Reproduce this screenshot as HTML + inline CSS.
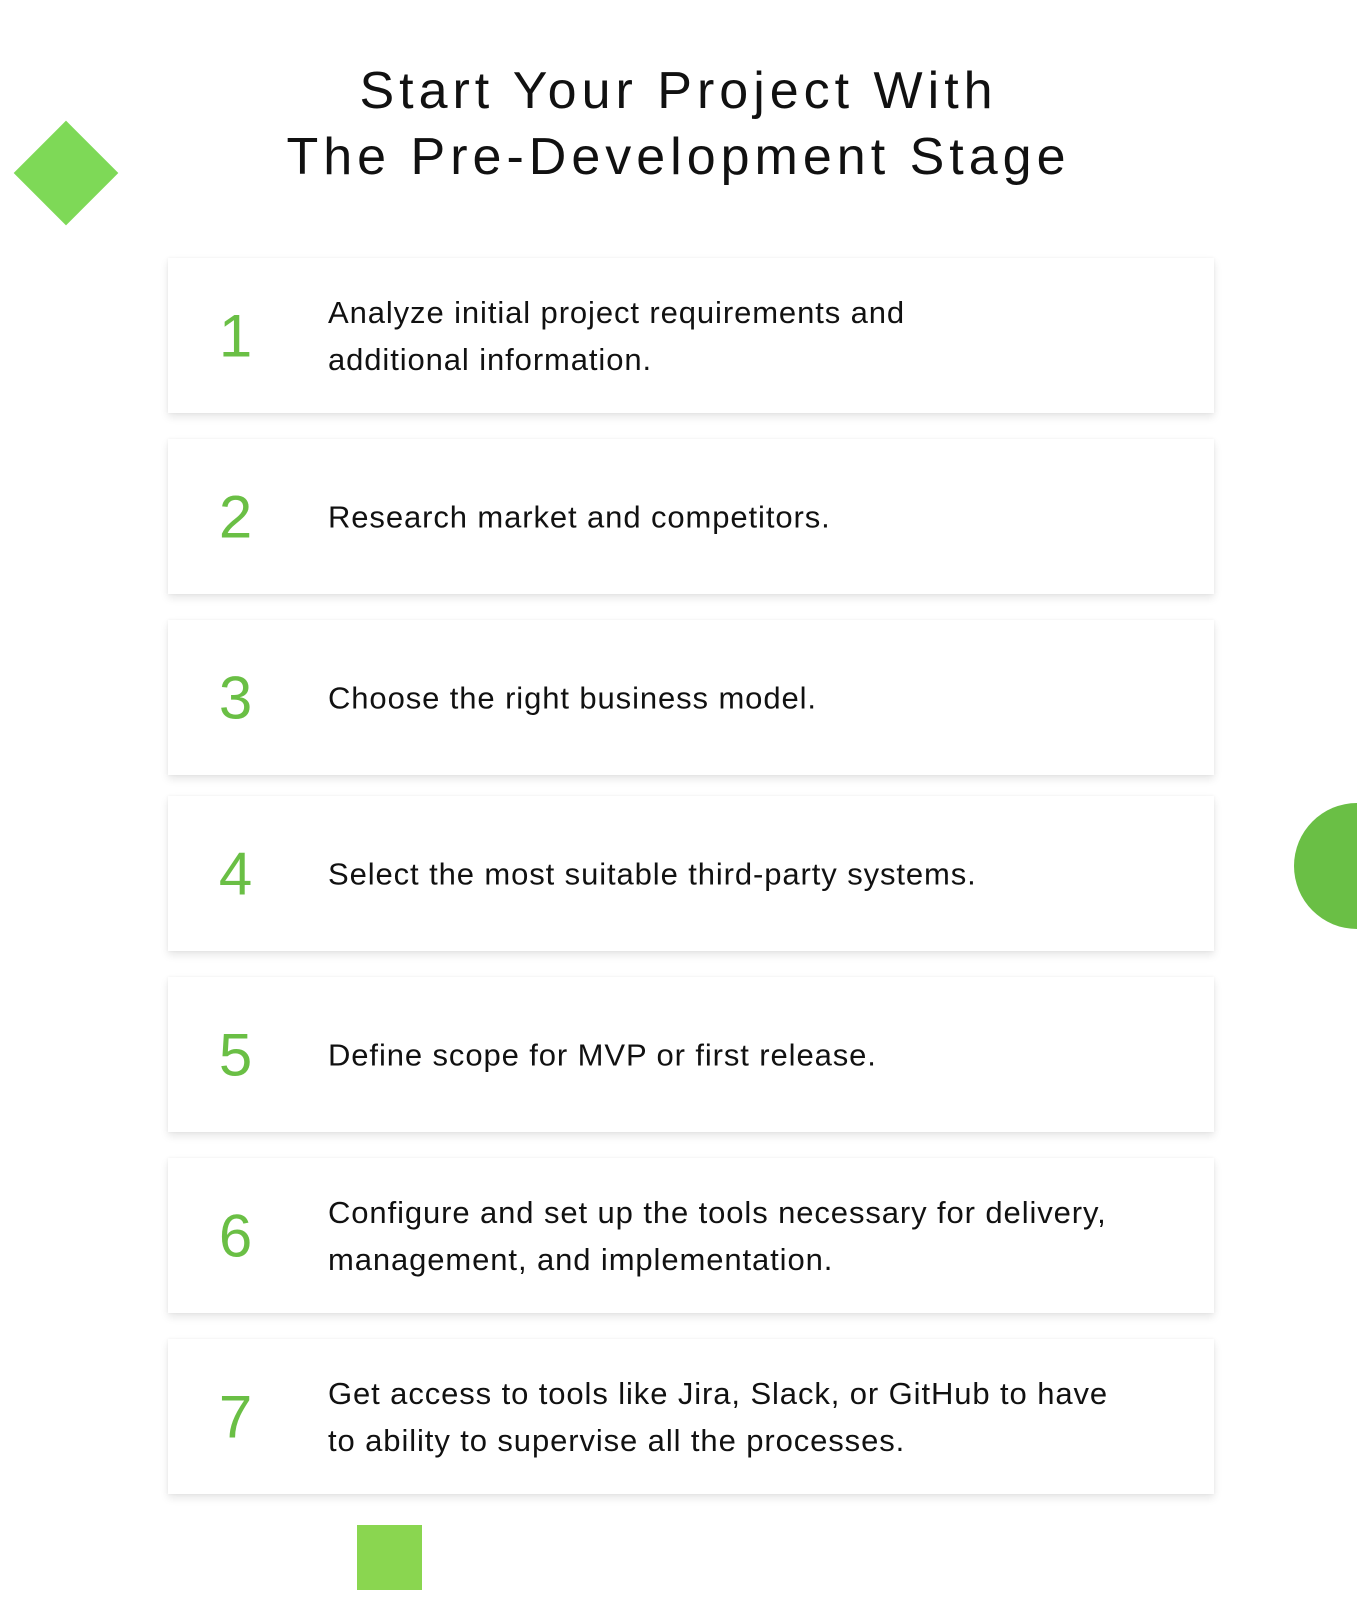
<!DOCTYPE html>
<html><head><meta charset="utf-8"><style>
*{margin:0;padding:0;box-sizing:border-box}
body{width:1357px;height:1600px;background:#fff;position:relative;overflow:hidden;font-family:"Liberation Sans",sans-serif}
.title{position:absolute;left:0;width:1357px;text-align:center;font-size:52px;letter-spacing:5px;color:#111;line-height:66px;top:58px}
.card{position:absolute;left:168px;width:1046px;height:155px;background:#fff;box-shadow:0 4px 8px rgba(0,0,0,0.10),0 0 3px rgba(0,0,0,0.05)}
.num{position:absolute;left:0;width:135px;text-align:center;top:50%;transform:translateY(-50%);font-size:60px;color:#6abf45;font-weight:300}
.txt{position:absolute;left:160px;top:50%;transform:translateY(-50%);font-size:31px;line-height:47px;color:#111;letter-spacing:0.9px}
</style></head><body>
<div class="title">Start Your Project With<br>The Pre-Development Stage</div>
<div style="position:absolute;left:29px;top:136px;width:74px;height:74px;background:#7ed957;transform:rotate(45deg)"></div>
<div style="position:absolute;left:1294px;top:803px;width:126px;height:126px;border-radius:50%;background:#6abf45"></div>
<div style="position:absolute;left:357px;top:1525px;width:65px;height:65px;background:#8ad650"></div>

<div class="card" style="top:258px"><div class="num">1</div><div class="txt">Analyze initial project requirements and<br>additional information.</div></div>
<div class="card" style="top:439px"><div class="num">2</div><div class="txt">Research market and competitors.</div></div>
<div class="card" style="top:620px"><div class="num">3</div><div class="txt">Choose the right business model.</div></div>
<div class="card" style="top:796px"><div class="num">4</div><div class="txt">Select the most suitable third-party systems.</div></div>
<div class="card" style="top:977px"><div class="num">5</div><div class="txt">Define scope for MVP or first release.</div></div>
<div class="card" style="top:1158px"><div class="num">6</div><div class="txt">Configure and set up the tools necessary for delivery,<br>management, and implementation.</div></div>
<div class="card" style="top:1339px"><div class="num">7</div><div class="txt">Get access to tools like Jira, Slack, or GitHub to have<br>to ability to supervise all the processes.</div></div>
</body></html>
